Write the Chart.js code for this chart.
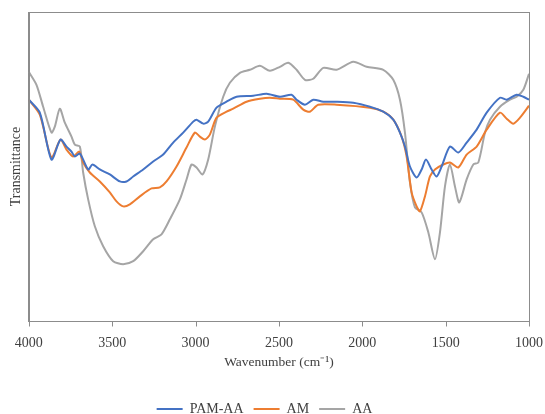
<!DOCTYPE html>
<html>
<head>
<meta charset="utf-8">
<script src="https://cdn.jsdelivr.net/npm/chart.js@4/dist/chart.umd.min.js"></script>
<style>
  html, body { margin: 0; padding: 0; background: #fff; }
  #wrap { width: 545px; height: 414px; }
</style>
</head>
<body>
<div id="wrap"><canvas id="ftirChart"></canvas></div>
<script>
// FTIR spectra, transmittance in arbitrary units
const pamWn = [4000,3934,3864,3810,3774,3744,3724,3694,3644,3618,3574,3514,3454,3414,3374,3314,3254,3194,3134,3074,3014,2994,2954,2924,2874,2814,2754,2654,2574,2494,2424,2394,2344,2294,2234,2154,2054,1954,1874,1814,1774,1744,1714,1674,1644,1618,1584,1554,1524,1474,1424,1374,1314,1254,1174,1134,1074,1034,1000];
const pamT = [222,209,162,182,175,170,165,168,152,157,152,147,140,140,145,152,160,167,179,189,200,202,198,200,214,220,225,226,228,225,227,222,217,222,220,220,219,215,210,202,189,175,155,144,152,162,152,145,155,175,169,179,192,209,224,222,227,225,222];

const amWn = [4000,3934,3864,3810,3774,3734,3698,3674,3634,3574,3514,3474,3434,3394,3334,3264,3214,3174,3114,3054,3004,2974,2944,2914,2874,2814,2774,2694,2614,2554,2494,2414,2354,2314,2264,2154,1954,1874,1814,1764,1734,1704,1674,1654,1624,1594,1564,1514,1474,1424,1374,1314,1254,1174,1134,1094,1054,1000];
const amT = [222,207,164,182,172,165,170,159,149,140,129,120,115,117,125,133,134,140,155,174,189,185,182,187,204,210,213,220,223,224,223,222,212,210,217,217,214,210,202,185,165,129,115,110,125,145,152,157,159,154,167,175,192,209,203,198,204,216];

const aaWn = [4000,3954,3914,3864,3844,3814,3784,3744,3724,3694,3674,3644,3604,3554,3494,3434,3374,3314,3254,3204,3154,3094,3054,3024,2994,2958,2924,2884,2834,2794,2734,2674,2614,2554,2494,2444,2394,2344,2294,2234,2154,2054,1974,1874,1814,1774,1744,1714,1684,1644,1604,1564,1534,1504,1474,1444,1418,1374,1334,1304,1264,1234,1174,1114,1074,1034,1000];
const aaT = [250,237,215,189,195,213,199,185,177,175,149,122,95,75,60,57,60,70,82,87,102,122,142,157,154,147,162,195,225,239,249,252,256,251,255,259,252,242,243,254,252,260,255,252,242,222,189,139,114,109,89,62,89,135,157,135,119,142,157,159,189,202,215,222,225,232,248];

const xTicks = [4000, 3500, 3000, 2500, 2000, 1500, 1000];

function toPoints(xs, ys) {
  return xs.map((x, i) => ({ x: x, y: ys[i] }));
}

const serif = "'Liberation Serif', 'Times New Roman', serif";
const axisGray = '#8c8c8c';

// frame round the plot area plus short tick marks under the x axis
const frame = {
  id: 'frame',
  afterDraw(chart) {
    const a = chart.chartArea, c = chart.ctx;
    const xs = chart.scales.x;
    c.save();
    c.strokeStyle = axisGray;
    c.lineWidth = 1;
    c.strokeRect(Math.round(a.left) + 0.5, Math.round(a.top) + 0.5,
                 Math.round(a.right - a.left), Math.round(a.bottom - a.top));
    const yb = Math.round(a.bottom) + 0.5;
    c.beginPath();
    xTicks.forEach(v => {
      const px = Math.round(xs.getPixelForValue(v)) + 0.5;
      c.moveTo(px, yb);
      c.lineTo(px, yb + 5);
    });
    c.stroke();
    c.restore();
  }
};

new Chart(document.getElementById('ftirChart'), {
  type: 'line',
  data: {
    datasets: [
      { label: 'PAM-AA', data: toPoints(pamWn, pamT), borderColor: '#4472C4', backgroundColor: '#4472C4', borderWidth: 2 },
      { label: 'AM', data: toPoints(amWn, amT), borderColor: '#ED7D31', backgroundColor: '#ED7D31', borderWidth: 2 },
      { label: 'AA', data: toPoints(aaWn, aaT), borderColor: '#A5A5A5', backgroundColor: '#A5A5A5', borderWidth: 2 }
    ]
  },
  options: {
    responsive: true,
    maintainAspectRatio: false,
    animation: false,
    layout: { padding: { top: 12, left: 0, right: 16, bottom: -12 } },
    elements: {
      line: { tension: 0.25 },
      point: { radius: 0 }
    },
    plugins: {
      legend: {
        position: 'bottom',
        labels: {
          usePointStyle: true,
          pointStyle: 'line',
          pointStyleWidth: 26,
          color: '#404040',
          font: { family: serif, size: 14 },
          padding: 10
        }
      },
      tooltip: { enabled: false }
    },
    scales: {
      x: {
        type: 'linear',
        reverse: true,
        min: 1000,
        max: 4000,
        afterBuildTicks: axis => { axis.ticks = xTicks.map(v => ({ value: v })); },
        ticks: { color: '#404040', font: { family: serif, size: 14 }, padding: 0, maxRotation: 0, callback: v => String(v) },
        grid: { drawOnChartArea: false, drawTicks: true, tickLength: 14, tickColor: 'rgba(0,0,0,0)' },
        border: { color: axisGray },
        title: { display: true, text: 'Wavenumber (cm⁻¹)', color: '#404040', font: { family: serif, size: 13.5 }, padding: { top: 3, bottom: 21 } }
      },
      y: {
        min: 0,
        max: 310,
        ticks: { display: false },
        grid: { display: false, drawTicks: false },
        border: { color: axisGray },
        title: { display: true, text: 'Transmittance', color: '#404040', font: { family: serif, size: 14 }, padding: { top: 8, bottom: 4 } }
      }
    }
  },
  plugins: [frame]
});
</script>
</body>
</html>
